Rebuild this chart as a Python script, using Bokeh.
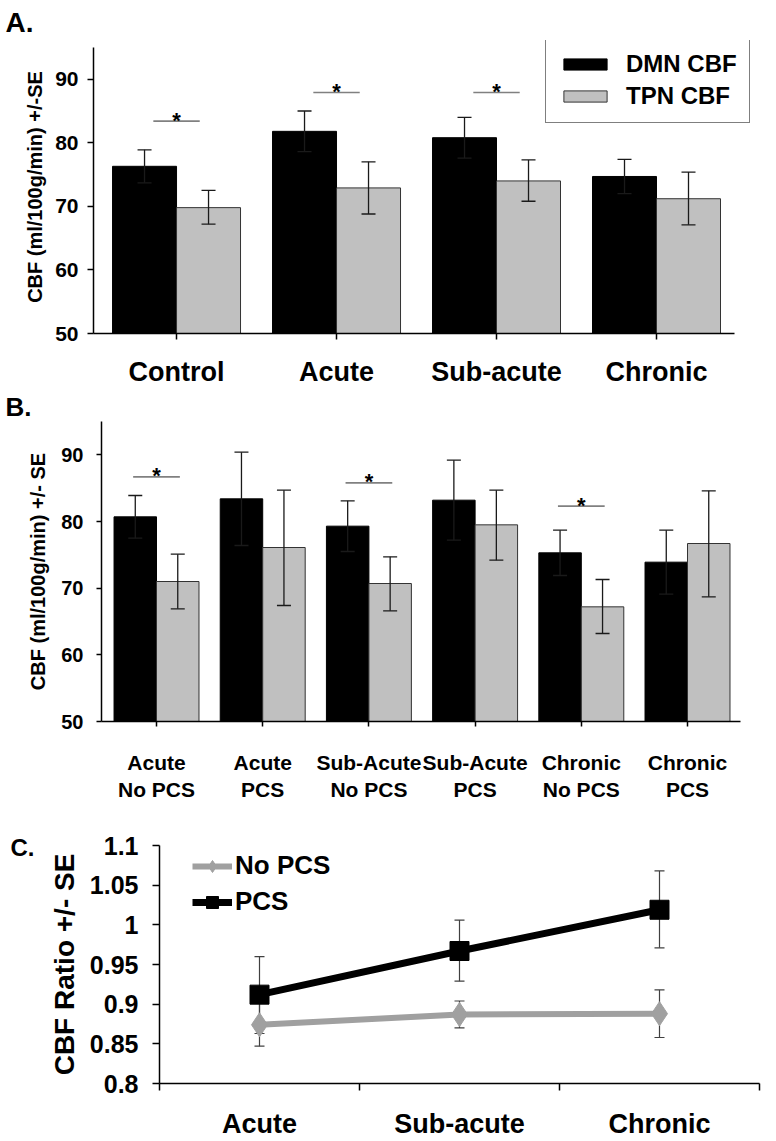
from bokeh.plotting import figure
from bokeh.layouts import column, row
from bokeh.models import (ColumnDataSource, Whisker, TeeHead, FixedTicker,
                          Legend, LegendItem, Range1d)
from bokeh.core.properties import value
from bokeh.embed import file_html
from bokeh.resources import INLINE

FONT = "Liberation Sans"

# ---------------- data ----------------
a_categories = ["Control", "Acute", "Sub-acute", "Chronic"]
a_dmn = [76.3, 81.8, 80.8, 74.7]
a_dmn_upper = [78.9, 85.0, 84.0, 77.4]
a_dmn_lower = [73.7, 78.6, 77.6, 72.0]
a_tpn = [69.8, 72.9, 74.0, 71.2]
a_tpn_upper = [72.5, 77.0, 77.3, 75.4]
a_tpn_lower = [67.2, 68.8, 70.8, 67.1]
a_sig_index = [0, 1, 2]
a_sig_level = [83.4, 87.9, 87.9]

b_categories = ["Acute\nNo PCS", "Acute\nPCS", "Sub-Acute\nNo PCS",
                "Sub-Acute\nPCS", "Chronic\nNo PCS", "Chronic\nPCS"]
b_dmn = [80.7, 83.4, 79.3, 83.2, 75.3, 73.9]
b_dmn_upper = [83.9, 90.4, 83.1, 89.2, 78.7, 78.7]
b_dmn_lower = [77.5, 76.4, 75.5, 77.2, 71.9, 69.1]
b_tpn = [71.0, 76.1, 70.7, 79.5, 67.2, 76.7]
b_tpn_upper = [75.1, 84.7, 74.7, 84.7, 71.3, 84.6]
b_tpn_lower = [66.9, 67.4, 66.6, 74.2, 63.2, 68.7]
b_sig_index = [0, 2, 4]
b_sig_level = [86.7, 85.8, 82.3]

cbf_ticks = [50, 60, 70, 80, 90]
cbf_tick_labels = ["50", "60", "70", "80", "90"]
series_names = ["DMN CBF", "TPN CBF"]

c_categories = ["Acute", "Sub-acute", "Chronic"]
c_series = ["No PCS", "PCS"]
c_nopcs = [0.874, 0.887, 0.888]
c_nopcs_upper = [0.901, 0.904, 0.918]
c_nopcs_lower = [0.847, 0.870, 0.858]
c_pcs = [0.912, 0.967, 1.019]
c_pcs_upper = [0.960, 1.006, 1.068]
c_pcs_lower = [0.863, 0.929, 0.971]
c_ticks = [0.8, 0.85, 0.9, 0.95, 1.0, 1.05, 1.1]
c_tick_labels = ["0.8", "0.85", "0.9", "0.95", "1", "1.05", "1.1"]

BAR_W = 0.4
GRAY = "#c0c0c0"


def base_fig(height, x_rng, y_rng, bl, br, bt, bb, letter, letter_offset, letter_size,
             letter_standoff):
    p = figure(width=776, height=height, x_range=Range1d(*x_rng), y_range=Range1d(*y_rng),
               output_backend="svg", toolbar_location=None, title=letter,
               min_border_left=bl, min_border_right=br, min_border_top=bt, min_border_bottom=bb)
    p.title.align = "left"
    p.title.offset = letter_offset
    p.title.text_font = FONT
    p.title.text_font_style = "bold"
    p.title.text_font_size = letter_size
    p.title.text_color = "black"
    p.title.standoff = letter_standoff
    p.grid.visible = False
    p.outline_line_color = None
    for ax in (p.xaxis[0], p.yaxis[0]):
        ax.axis_line_color = "black"
        ax.axis_line_width = 1.5
        ax.major_tick_line_color = "black"
        ax.major_tick_line_width = 1.5
        ax.major_tick_in = 0
        ax.minor_tick_line_color = None
        ax.major_label_text_font = FONT
        ax.major_label_text_font_style = "bold"
        ax.major_label_text_color = "black"
        ax.axis_label_text_font = FONT
        ax.axis_label_text_font_style = "bold"
        ax.axis_label_text_color = "black"
    return p


def bar_panel(height, x_rng, x_bounds, y_rng, bl, br, bt, bb, cats, dmn, dmn_u, dmn_l,
              tpn, tpn_u, tpn_l, sig_idx, sig_lvl, sig_hw, tick_fs, xl_fs, x_standoff,
              y_label, y_standoff, tick_out, ylab_standoff, letter, letter_offset,
              letter_size, letter_standoff):
    p = base_fig(height, x_rng, y_rng, bl, br, bt, bb, letter, letter_offset, letter_size,
                 letter_standoff)
    idx = list(range(len(cats)))
    s_d = ColumnDataSource(dict(x=[i - BAR_W / 2 for i in idx], top=dmn, upper=dmn_u, lower=dmn_l))
    s_t = ColumnDataSource(dict(x=[i + BAR_W / 2 for i in idx], top=tpn, upper=tpn_u, lower=tpn_l))
    r_d = p.vbar(x="x", top="top", bottom=50, width=BAR_W, source=s_d,
                 fill_color="black", line_color="black", line_width=1)
    r_t = p.vbar(x="x", top="top", bottom=50, width=BAR_W, source=s_t,
                 fill_color=GRAY, line_color="#333333", line_width=1)
    for src in (s_d, s_t):
        w = Whisker(base="x", upper="upper", lower="lower", source=src, level="annotation",
                    line_color="#1a1a1a", line_width=1.3,
                    upper_head=TeeHead(size=14, line_color="#1a1a1a", line_width=1.3),
                    lower_head=TeeHead(size=14, line_color="#1a1a1a", line_width=1.3))
        p.add_layout(w)
    p.segment(x0=[i - sig_hw for i in sig_idx], x1=[i + sig_hw for i in sig_idx],
              y0=sig_lvl, y1=sig_lvl, line_color="#808080", line_width=1.6)
    p.text(x=sig_idx, y=sig_lvl, text=["*"] * len(sig_idx), text_font=value(FONT),
           text_font_style="bold", text_font_size="22px", text_align="center",
           text_baseline="alphabetic", y_offset=-1, text_color="black")
    p.xaxis.ticker = FixedTicker(ticks=idx)
    p.xaxis.major_label_overrides = {i: c for i, c in zip(idx, cats)}
    p.xaxis.major_label_text_font_size = xl_fs
    p.xaxis.major_label_standoff = x_standoff
    p.xaxis.major_tick_out = tick_out
    p.xaxis.bounds = x_bounds
    p.yaxis.ticker = FixedTicker(ticks=cbf_ticks)
    p.yaxis.major_label_overrides = {t: l for t, l in zip(cbf_ticks, cbf_tick_labels)}
    p.yaxis.major_label_text_font_size = tick_fs
    p.yaxis.major_tick_out = tick_out
    p.yaxis.major_label_standoff = y_standoff
    p.yaxis.axis_label = y_label
    p.yaxis.axis_label_text_font_size = "20px"
    p.yaxis.axis_label_standoff = ylab_standoff
    p.yaxis.bounds = (50, 95)
    return p, r_d, r_t


# ---------------- Panel A (page y 0-389) ----------------
pA, rA_d, rA_t = bar_panel(389, (-0.519, 3.6), (-0.519, 3.49), (50, 96.09), 93, 24, 40, 54,
                           a_categories, a_dmn, a_dmn_upper, a_dmn_lower,
                           a_tpn, a_tpn_upper, a_tpn_lower,
                           a_sig_index, a_sig_level, 0.145, "21px", "27px", 17,
                           "CBF (ml/100g/min) +/-SE", 9, 6, 6, "A.", -88, "28px", 6)
legA = Legend(items=[LegendItem(label=series_names[0], renderers=[rA_d]),
                     LegendItem(label=series_names[1], renderers=[rA_t])],
              location=(452, 210), border_line_color="black", border_line_width=1.5,
              background_fill_color="white", background_fill_alpha=1.0,
              padding=12, spacing=4, margin=0, glyph_width=54, glyph_height=14,
              label_height=14, label_standoff=14, label_text_font=FONT,
              label_text_font_style="bold", label_text_font_size="24px",
              label_text_color="black")
pA.add_layout(legA)

# ---------------- Panel B (page y 389-804) ----------------
pB, rB_d, rB_t = bar_panel(415, (-0.518, 5.499), (-0.518, 5.499), (50, 95), 101, 36, 31, 82,
                           b_categories, b_dmn, b_dmn_upper, b_dmn_lower,
                           b_tpn, b_tpn_upper, b_tpn_lower,
                           b_sig_index, b_sig_level, 0.22, "20px", "21px", 24,
                           "CBF (ml/100g/min) +/- SE", 13, 5, 9, "B.", -96, "26px", 0)

# ---------------- Panel C (page y 804-1141) ----------------
pC = base_fig(337, (0, 3), (0.8, 1.1), 159, 17, 41, 57, "C.", -149, "24px", -30)
cx = [i + 0.5 for i in range(len(c_categories))]
s_np = ColumnDataSource(dict(x=cx, y=c_nopcs, upper=c_nopcs_upper, lower=c_nopcs_lower))
s_p = ColumnDataSource(dict(x=cx, y=c_pcs, upper=c_pcs_upper, lower=c_pcs_lower))
for src in (s_np, s_p):
    pC.add_layout(Whisker(base="x", upper="upper", lower="lower", source=src, level="underlay",
                          line_color="#404040", line_width=1.2,
                          upper_head=TeeHead(size=10, line_color="#404040", line_width=1.2),
                          lower_head=TeeHead(size=10, line_color="#404040", line_width=1.2)))
l_np = pC.line("x", "y", source=s_np, line_color="#a0a0a0", line_width=6)
m_np = pC.scatter("x", "y", source=s_np, marker="diamond", size=24, fill_color="#a0a0a0",
                  line_color="#a0a0a0")
l_p = pC.line("x", "y", source=s_p, line_color="black", line_width=7)
m_p = pC.scatter("x", "y", source=s_p, marker="square", size=19, fill_color="black",
                 line_color="black")
pC.xaxis.ticker = FixedTicker(ticks=cx, minor_ticks=[0, 1, 2, 3])
pC.xaxis.major_label_overrides = {x: c for x, c in zip(cx, c_categories)}
pC.xaxis.major_tick_out = 0
pC.xaxis.minor_tick_line_color = "black"
pC.xaxis.minor_tick_line_width = 1.5
pC.xaxis.minor_tick_in = 0
pC.xaxis.minor_tick_out = 7
pC.xaxis.major_label_text_font_size = "27px"
pC.xaxis.major_label_standoff = 18
pC.yaxis.ticker = FixedTicker(ticks=c_ticks)
pC.yaxis.major_label_overrides = {t: l for t, l in zip(c_ticks, c_tick_labels)}
pC.yaxis.major_label_text_font_size = "25px"
pC.yaxis.major_tick_out = 7
pC.yaxis.major_label_standoff = 14
pC.yaxis.axis_label = "CBF Ratio +/- SE"
pC.yaxis.axis_label_text_font_size = "28px"
pC.yaxis.axis_label_standoff = 7
legC = Legend(items=[LegendItem(label=c_series[0], renderers=[l_np, m_np]),
                     LegendItem(label=c_series[1], renderers=[l_p, m_p])],
              location=(33, 166), border_line_color=None, background_fill_alpha=0,
              padding=0, spacing=5, margin=0, glyph_width=40, glyph_height=30,
              label_height=30, label_standoff=3, label_text_font=FONT,
              label_text_font_style="bold", label_text_font_size="26px",
              label_text_color="black")
pC.add_layout(legC)

layout = column(row(pA), row(pB), row(pC), spacing=0)
open("out.html", "w").write(file_html(layout, INLINE))
